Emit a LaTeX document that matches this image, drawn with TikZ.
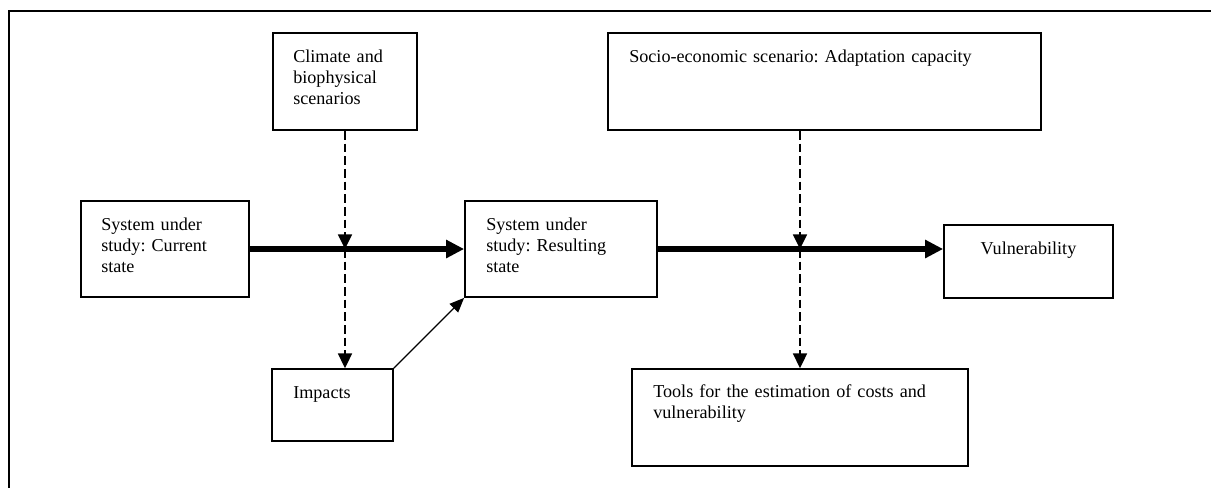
\documentclass[tikz,border=0pt]{standalone}
\usepackage{fontspec}
\setmainfont{Liberation Serif}
\usetikzlibrary{arrows.meta,fit}
\frenchspacing
\begin{document}
\begin{tikzpicture}[x=0.75pt,y=-0.75pt,
  box/.style={draw,line width=1.3pt,inner sep=0pt,rectangle},
  txt/.style={inner sep=0pt,anchor=base west,align=left,text width=#1,font=\fontsize{13.6pt}{15.75pt}\selectfont},
  txt/.default=200pt,
  ctxt/.style={inner sep=0pt,anchor=base,font=\fontsize{13.6pt}{15.75pt}\selectfont},
  mainarrow/.style={line width=3.8pt,-{Triangle[length=13.5pt,width=13pt]}},
  dasharrow/.style={line width=1.3pt,dash pattern=on 6.5pt off 3pt,-{Triangle[length=11pt,width=10.5pt]}},
  thinarrow/.style={line width=1pt,-{Triangle[length=11pt,width=9pt]}}]
\useasboundingbox (0,0) rectangle (1211,487);
\fill[white] (0,0) rectangle (1211,487);
% outer frame
\draw[line width=0.9pt] (1212,11) -- (9,11) -- (9,488);
% boxes
\node[box, fit={(273,33) (417,130)}] (clim) {};
\node[box, fit={(81,201) (249,297)}] (cur) {};
\node[box, fit={(465,201) (657,297)}] (res) {};
\node[box, fit={(608,33) (1041,130)}] (soc) {};
\node[box, fit={(944,225) (1113,298)}] (vul) {};
\node[box, fit={(272,369) (393,441)}] (imp) {};
\node[box, fit={(632,369) (968,466)}] (tools) {};
% texts
\node[txt=110pt] (climT) at (293,62) {Climate and\\biophysical\\scenarios};
\node[txt=120pt] (curT) at (101,230) {System under\\study: Current\\state};
\node[txt=135pt] (resT) at (486,230) {System under\\study: Resulting\\state};
\node[txt=310pt] (socT) at (629,62) {Socio-economic scenario: Adaptation capacity};
\node[ctxt] (vulT) at (1028.5,254) {Vulnerability};
\node[txt=85pt] (impT) at (293,398) {Impacts};
\node[txt=240pt] (toolsT) at (653,397) {Tools for the estimation of costs and\\vulnerability};
% connectors
\coordinate (m1) at (clim.south |- cur.east);
\coordinate (m2) at (tools.north |- cur.east);
\coordinate (s2) at (tools.north |- soc.south);
\draw[dasharrow] (clim.south) -- (m1);
\draw[dasharrow] (m1) -- (clim.south |- imp.north);
\draw[dasharrow] (s2) -- (m2);
\draw[dasharrow] (m2) -- (tools.north);
\draw[mainarrow] (cur.east) -- (res.west);
\draw[mainarrow] (res.east) -- (res.east -| vul.west);
\draw[thinarrow] (imp.north east) -- (res.south west);
\end{tikzpicture}
\end{document}
